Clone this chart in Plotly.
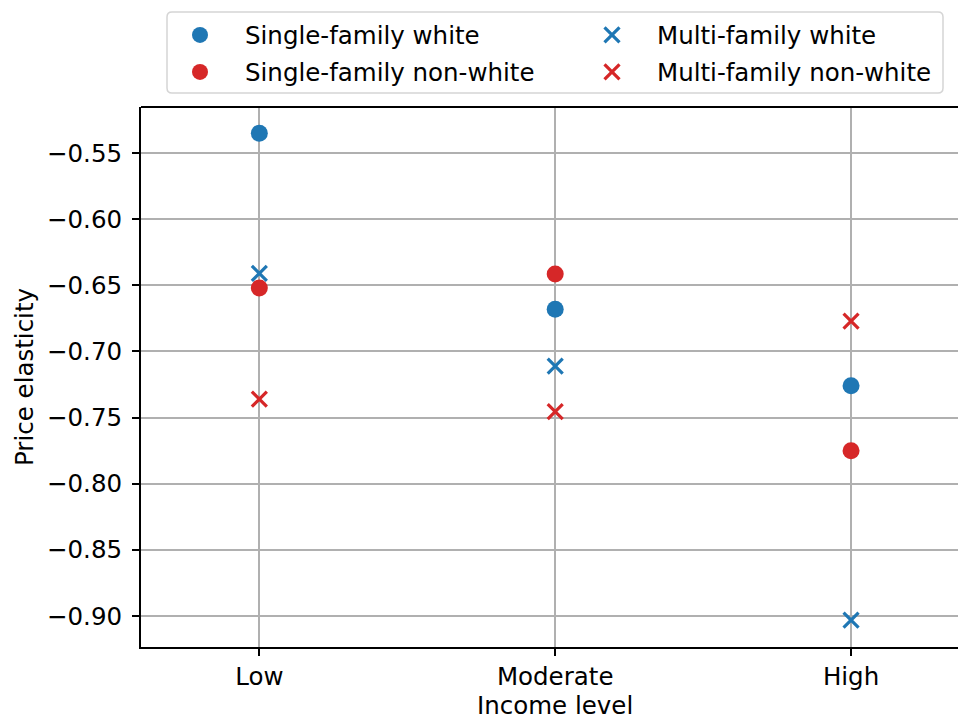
import plotly.graph_objects as go

categories = ["Low", "Moderate", "High"]
sf_white = [-0.535, -0.668, -0.726]
sf_nonwhite = [-0.652, -0.6415, -0.775]
mf_white = [-0.641, -0.711, -0.903]
mf_nonwhite = [-0.736, -0.7455, -0.677]
yticks = [-0.55, -0.60, -0.65, -0.70, -0.75, -0.80, -0.85, -0.90]
ytick_text = ["\u22120.55", "\u22120.60", "\u22120.65", "\u22120.70", "\u22120.75", "\u22120.80", "\u22120.85", "\u22120.90"]

BLUE = "#1f77b4"
RED = "#d62728"
xpos = list(range(len(categories)))

# plot-area geometry in pixels
L, R, T, B = 141, 958, 107, 647
PW, PH = R - L, B - T
def px(x):
    return (x - L) / PW
def py(y):
    return (B - y) / PH

font = "DejaVu Sans"
FS = 24.5

fig = go.Figure()
circle = dict(symbol="circle", size=17, line=dict(width=0))
def xmark(c):
    return dict(symbol="x-thin-open", size=15, line=dict(width=3.2, color=c), color=c)

fig.add_trace(go.Scatter(x=xpos, y=sf_white, mode="markers", name="Single-family white",
                         marker=dict(circle, color=BLUE), legend="legend"))
fig.add_trace(go.Scatter(x=xpos, y=sf_nonwhite, mode="markers", name="Single-family non-white",
                         marker=dict(circle, color=RED), legend="legend2"))
fig.add_trace(go.Scatter(x=xpos, y=mf_white, mode="markers", name="Multi-family white",
                         marker=xmark(BLUE), legend="legend3"))
fig.add_trace(go.Scatter(x=xpos, y=mf_nonwhite, mode="markers", name="Multi-family non-white",
                         marker=xmark(RED), legend="legend4"))

def leg(xm, ym):
    return dict(x=px(xm), xanchor="left", y=py(ym), yanchor="middle",
                bgcolor="rgba(0,0,0,0)", borderwidth=0, itemwidth=80,
                font=dict(family=font, size=FS, color="black"), itemsizing="trace")

fig.update_layout(
    width=958, height=719,
    margin=dict(l=L, r=958 - R, t=T, b=719 - B, autoexpand=False),
    plot_bgcolor="white", paper_bgcolor="white",
    font=dict(family=font, size=FS, color="black"),
    showlegend=True,
    legend=leg(155, 35),
    legend2=leg(155, 72),
    legend3=leg(567, 35),
    legend4=leg(567, 72),
    xaxis=dict(range=[-0.4, (958 - 259) / 296], tickvals=xpos, ticktext=categories,
               showgrid=True, gridcolor="#b0b0b0", gridwidth=1.5,
               showline=True, linecolor="black", linewidth=2, mirror=False,
               ticks="outside", ticklen=7, tickwidth=1.5, tickcolor="black",
               zeroline=False, automargin=False,
               tickfont=dict(family=font, size=FS)),
    yaxis=dict(range=[-0.9234, -0.5152], tickvals=yticks, ticktext=ytick_text,
               showgrid=True, gridcolor="#b0b0b0", gridwidth=1.5,
               showline=True, linecolor="black", linewidth=2, mirror=False,
               ticks="outside", ticklen=7, tickwidth=1.5, tickcolor="black",
               zeroline=False, automargin=False, ticklabelstandoff=5,
               tickfont=dict(family=font, size=FS),
               title=dict(text="Price elasticity", font=dict(family=font, size=FS), standoff=6)),
)
# x-axis title
fig.add_annotation(text="Income level", xref="x", x=1, yref="paper", y=py(705),
                   xanchor="center", yanchor="middle", showarrow=False, borderpad=0,
                   font=dict(family=font, size=FS, color="black"))
# top border line of the axes box
fig.add_shape(type="line", xref="paper", yref="paper", x0=0, x1=1, y0=1, y1=1,
              line=dict(color="black", width=2))
# legend frame (rounded rectangle)
x0, x1, y0, y1 = px(167), px(943), py(93), py(12)
rx, ry = 5 / PW, 5 / PH
path = (f"M {x0+rx},{y0} L {x1-rx},{y0} Q {x1},{y0} {x1},{y0+ry} L {x1},{y1-ry} "
        f"Q {x1},{y1} {x1-rx},{y1} L {x0+rx},{y1} Q {x0},{y1} {x0},{y1-ry} "
        f"L {x0},{y0+ry} Q {x0},{y0} {x0+rx},{y0} Z")
fig.add_shape(type="path", xref="paper", yref="paper", path=path,
              line=dict(color="#d5d5d5", width=1.5), fillcolor="rgba(255,255,255,0.8)", layer="below")

fig.write_html("out.html", config={"displayModeBar": False},
               post_script=["document.body.style.margin = '0px';"])
